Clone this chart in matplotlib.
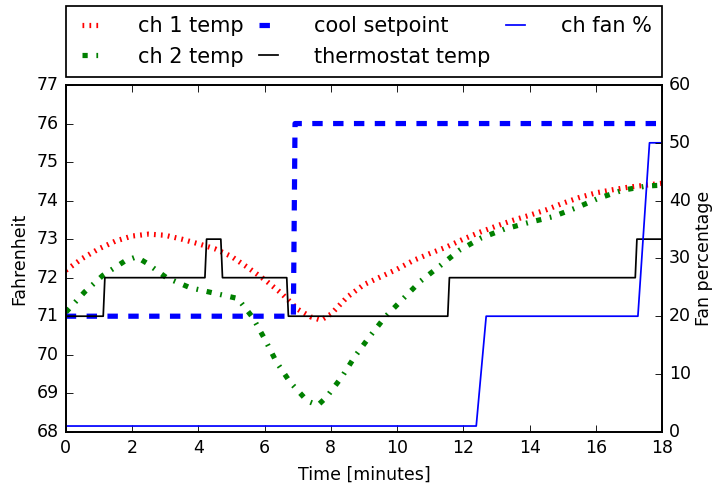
import numpy as np
import matplotlib.pyplot as plt

plt.style.use('classic')
plt.rcParams['font.size'] = 10
plt.rcParams['figure.facecolor'] = 'white'
plt.rcParams['savefig.facecolor'] = 'white'

# ch 1 temp
ch1_time = [0, 0.5, 1, 1.5, 2, 2.5, 3, 3.5, 4, 4.5, 5, 5.5, 6, 6.5, 7, 7.4, 7.7, 8,
            8.5, 9, 9.5, 10, 10.5, 11, 11.5, 12, 12.5, 13, 13.5, 14, 14.5, 15, 15.5,
            16, 16.5, 17, 17.5, 18]
ch1_temp = [72.19, 72.5, 72.75, 72.95, 73.08, 73.13, 73.1, 73.0, 72.88, 72.75, 72.55,
            72.26, 71.95, 71.6, 71.18, 70.98, 70.9, 71.05, 71.5, 71.82, 72.02, 72.22,
            72.45, 72.63, 72.8, 73.0, 73.18, 73.34, 73.49, 73.62, 73.76, 73.93, 74.08,
            74.2, 74.28, 74.35, 74.4, 74.45]

# ch 2 temp
ch2_time = [0, 0.57, 1.12, 1.78, 2.13, 2.44, 3.04, 3.75, 4.47, 5.19, 5.64, 6.01, 6.36,
            6.77, 7.29, 7.61, 7.87, 8.33, 8.73, 9.18, 9.64, 10.19, 10.71, 11.3, 11.88,
            12.54, 13.24, 13.97, 14.69, 15.4, 16.08, 16.81, 17.54, 18]
ch2_temp = [71.1, 71.63, 72.06, 72.43, 72.54, 72.38, 72.0, 71.74, 71.6, 71.46, 70.97,
            70.4, 69.81, 69.29, 68.8, 68.69, 68.9, 69.42, 69.96, 70.48, 70.98, 71.46,
            71.91, 72.31, 72.71, 73.03, 73.26, 73.43, 73.58, 73.81, 74.06, 74.27,
            74.38, 74.4]

# cool setpoint
setpoint_time = [0, 6.87, 6.92, 18]
setpoint_temp = [71, 71, 76, 76]

# thermostat temp
thermo_time = [0, 1.13, 1.18, 4.2, 4.25, 4.68, 4.73, 6.67, 6.72, 11.53, 11.58,
               17.19, 17.24, 18]
thermo_temp = [71, 71, 72, 72, 73, 73, 72, 72, 71, 71, 72, 72, 73, 73]

# ch fan %
fan_time = [0, 12.39, 12.69, 17.27, 17.62, 18]
fan_pct = [1, 1, 20, 20, 50, 50]

fig, ax = plt.subplots(figsize=(5.72, 3.864), dpi=125)
fig.subplots_adjust(left=0.092, right=0.926, bottom=0.106, top=0.824)
ax2 = ax.twinx()

l1, = ax.plot(ch1_time, ch1_temp, 'r:', lw=3)
l2, = ax.plot(ch2_time, ch2_temp, 'g-.', lw=3)
l3, = ax.plot(setpoint_time, setpoint_temp, 'b--', lw=3)
l4, = ax.plot(thermo_time, thermo_temp, 'k-', lw=1)
l5, = ax2.plot(fan_time, fan_pct, 'b-', lw=1)

ax.set_xlim(0, 18)
ax.set_ylim(68, 77)
ax2.set_ylim(0, 60)
ax.set_xticks(range(0, 19, 2))
ax.set_yticks(range(68, 78))
ax2.set_yticks(range(0, 61, 10))

ax.set_xlabel('Time [minutes]')
ax.set_ylabel('Fahrenheit')
ax2.set_ylabel('Fan percentage', labelpad=2)

ax2.legend([l1, l2, l3, l4, l5],
           ['ch 1 temp', 'ch 2 temp', 'cool setpoint', 'thermostat temp', 'ch fan %'],
           bbox_to_anchor=(0., 1.023, 1., .102), loc='lower left', ncol=3,
           mode='expand', borderaxespad=0., borderpad=0.5,
           handlelength=1.55, handletextpad=1.4)

fig.savefig('out.png', dpi=125)
